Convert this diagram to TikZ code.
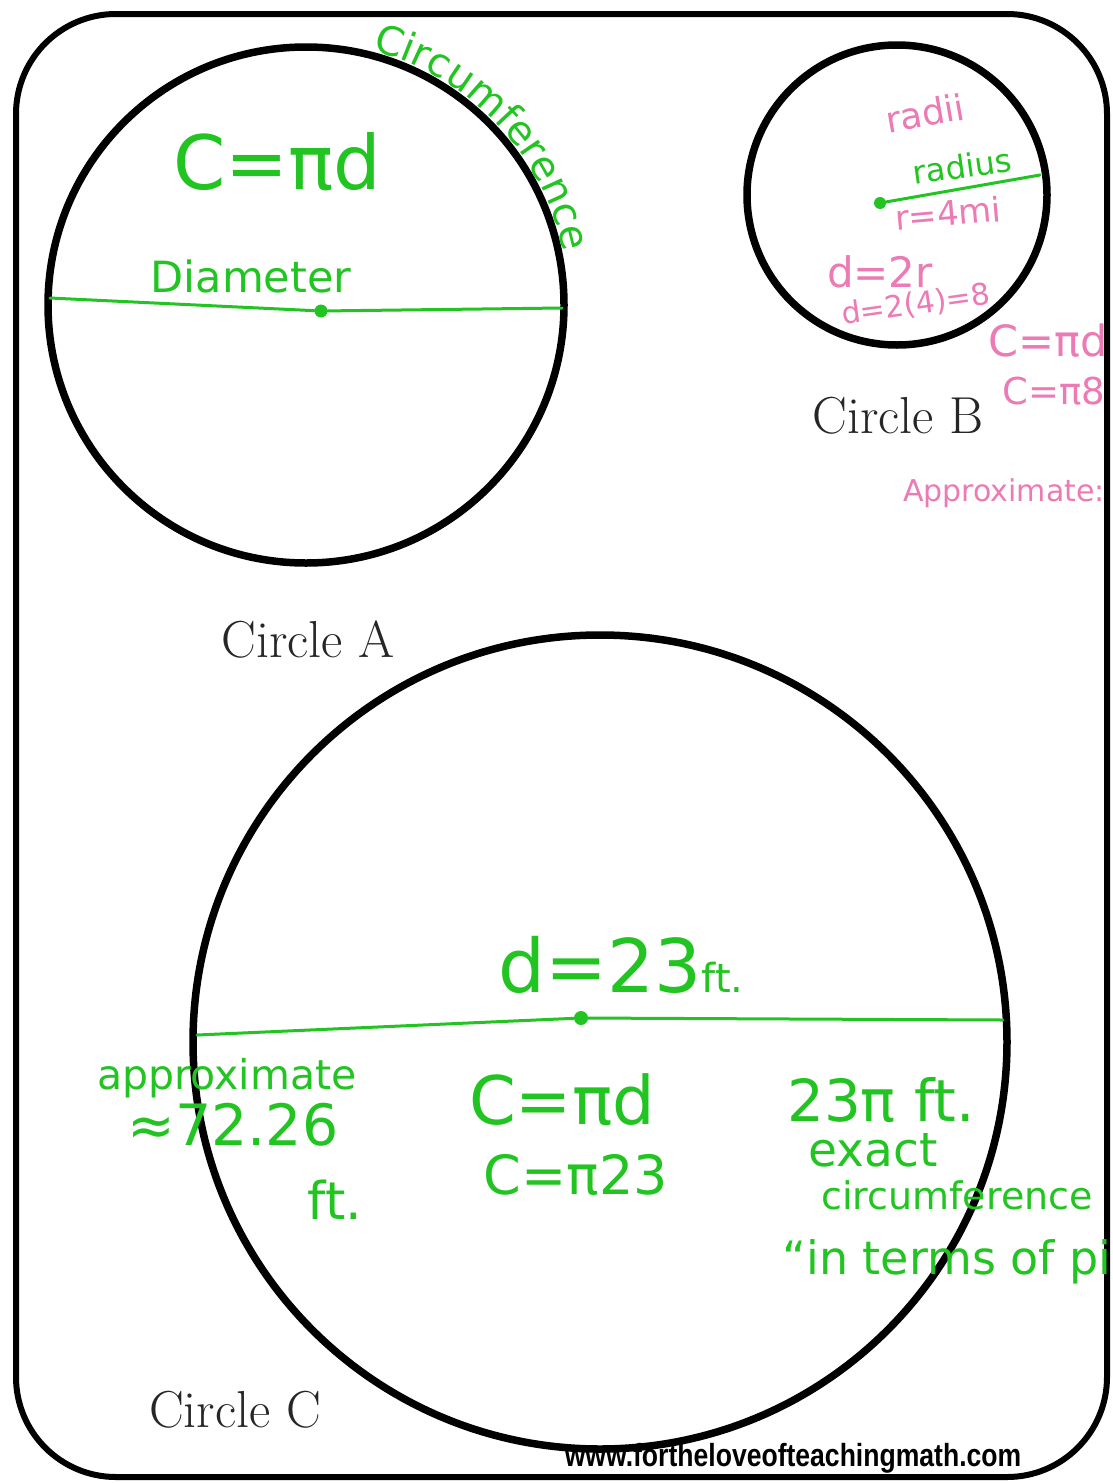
\documentclass[tikz,border=0pt]{standalone}
\usepackage{fontspec}
\usetikzlibrary{decorations.text}
\newfontfamily\handfont{DejaVu Sans}
\newfontfamily\urlfont{Liberation Sans}
\definecolor{hgreen}{RGB}{34,196,34}
\definecolor{hpink}{RGB}{236,122,180}
\newcommand\hsz[1]{\fontsize{#1}{#1}\selectfont}
\newcommand\circfont{\handfont\fontsize{40}{40}\selectfont\color{hgreen}}
\begin{document}
\begin{tikzpicture}[x=1pt,y=-1pt,
  ring/.style={circle, draw=black, line width=7.5pt, inner sep=0pt},
  gline/.style={draw=hgreen, line width=3pt, line cap=round},
  gdot/.style={circle, fill=hgreen, inner sep=0pt, minimum size=13pt},
  hand/.style={font=\handfont, inner sep=0pt},
  grn/.style={hand, text=hgreen},
  pnk/.style={hand, text=hpink},
  circlabel/.style={font=\fontsize{52}{52}\selectfont, inner sep=0pt, text=black!85}]
\useasboundingbox (0,0) rectangle (1112,1483);
\fill[white] (0,0) rectangle (1112,1483);
% outer frame
\draw[line width=6pt, rounded corners=100pt] (16,14) rectangle (1107,1477);
% circles
\node[ring, minimum size=516pt] (cA) at (306,305) {};
\node[ring, minimum size=300pt] (cB) at (897,195) {};
\node[ring, minimum size=814pt] (cC) at (600,1042) {};
% circle A annotations
\coordinate (a1) at (50,298);
\coordinate (a2) at (562,308);
\node[gdot] (adot) at (321,311) {};
\draw[gline] (a1) -- (adot) -- (a2);
\node[grn, font=\handfont\hsz{75}] (aform) at (277,162) {C=πd};
\node[grn, font=\handfont\hsz{43}] (adiam) at (251,276) {Diameter};
\path[decorate, decoration={text along path, text={|\circfont|Circumference}, text align=center}]
  (cA.center) ++(-76:263) arc[start angle=-76, end angle=-11, radius=263];
% circle B annotations
\node[gdot, minimum size=12pt] (bdot) at (880,203) {};
\coordinate (b1) at (1040,175);
\draw[gline] (bdot) -- (b1);
\node[pnk, font=\handfont\hsz{36}, rotate=10] (bradii) at (925,113) {radii};
\node[grn, font=\handfont\hsz{32}, rotate=8] (bradius) at (962,166) {radius};
\node[pnk, font=\handfont\hsz{34}, rotate=5] (br) at (948,213) {r=4mi};
\node[pnk, font=\handfont\hsz{42}] (bd1) at (880,272) {d=2r};
\node[pnk, font=\handfont\hsz{30}, rotate=8] (bd2) at (916,305) {d=2(4)=8};
\node[pnk, font=\handfont\hsz{43}] (bc1) at (1048,341) {C=πd};
\node[pnk, font=\handfont\hsz{37}] (bc2) at (1054,391) {C=π8};
\node[pnk, font=\handfont\hsz{30}] (bapp) at (1004,493) {Approximate:};
% circle C annotations
\coordinate (c1) at (197,1035);
\coordinate (c2) at (1003,1020);
\node[gdot, minimum size=14pt] (cdot) at (581,1018) {};
\draw[gline] (c1) -- (cdot) -- (c2);
\node[grn] (cd) at (621,965) {{\hsz{74}d=23}{\hsz{40}ft.}};
\node[grn, font=\handfont\hsz{41}] (capp) at (227,1078) {approximate};
\node[grn, font=\handfont\hsz{57}] (cval) at (233,1125) {≈72.26};
\node[grn, font=\handfont\hsz{52}] (cft) at (335,1200) {ft.};
\node[grn, font=\handfont\hsz{67}] (cf1) at (562,1100) {C=πd};
\node[grn, font=\handfont\hsz{54}] (cf2) at (576,1175) {C=π23};
\node[grn, font=\handfont\hsz{58}] (cex) at (881,1100) {23π ft.};
\node[grn, font=\handfont\hsz{47}] (cexact) at (873,1150) {exact};
\node[grn, font=\handfont\hsz{38}] (ccirc) at (957,1195) {circumference};
\node[grn, font=\handfont\hsz{46}] (cterms) at (947,1262) {“in terms of pi};
% labels
\node[circlabel] (lA) at (308,640) {Circle A};
\node[circlabel] (lB) at (898,416) {Circle B};
\node[circlabel] (lC) at (235,1410) {Circle C};
\node[inner sep=0pt] (url) at (793,1458) {\scalebox{0.83}[1]{\urlfont\bfseries\hsz{32}www.fortheloveofteachingmath.com}};
\end{tikzpicture}
\end{document}
